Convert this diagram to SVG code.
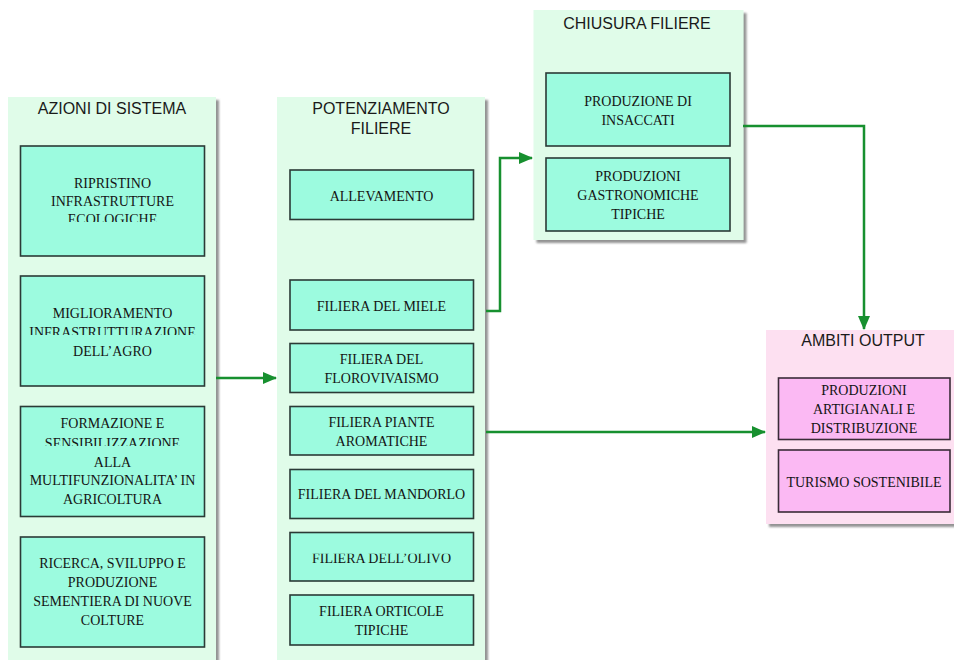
<svg xmlns="http://www.w3.org/2000/svg" width="954" height="660" viewBox="0 0 954 660">
<style>
.cont{fill:#e0fce9;filter:url(#sh)}
.contp{fill:#fde0f1;filter:url(#sh)}
.box{fill:#9cfbdf;stroke:#2b3a36;stroke-width:1.6}
.boxp{fill:#fbb9f3;stroke:#3a2b38;stroke-width:1.6}
.title{font-family:"Liberation Sans",Arial,sans-serif;font-size:16px;fill:#1a1a1a;text-anchor:middle}
.t{font-family:"Liberation Serif","Times New Roman",serif;font-size:14px;fill:#141414;text-anchor:middle}
.con{fill:none;stroke:#17902f;stroke-width:2.5}
</style>
<defs>
<filter id="sh" x="-5%" y="-5%" width="115%" height="115%">
<feDropShadow dx="3" dy="3" stdDeviation="1.2" flood-color="#777" flood-opacity="0.8"/>
</filter>
<marker id="ah" markerWidth="14" markerHeight="12" refX="13" refY="6" orient="auto" markerUnits="userSpaceOnUse">
<path d="M0,0 L14,6 L0,12 Z" fill="#17902f"/>
</marker>
<clipPath id="c1"><rect x="0" y="0" width="954" height="222"/></clipPath>
<clipPath id="c2"><rect x="0" y="0" width="954" height="335"/></clipPath>
<clipPath id="c3"><rect x="0" y="0" width="954" height="446"/></clipPath>
<clipPath id="c4"><rect x="0" y="553.8" width="954" height="106"/></clipPath>
</defs>

<g id="azioni-di-sistema">
<rect class="cont" x="8" y="97" width="208" height="580"/>
<text class="title" x="112" y="114">AZIONI DI SISTEMA</text>
</g>
<g id="ripristino">
<rect class="box" x="20.5" y="146" width="184" height="110"/>
<text class="t" x="112.5" y="187.5">RIPRISTINO</text>
<text class="t" x="112.5" y="205.5">INFRASTRUTTURE</text>
<text class="t" x="112.5" y="224" clip-path="url(#c1)">ECOLOGICHE</text>
</g>
<g id="miglioramento">
<rect class="box" x="20.5" y="276" width="184" height="110"/>
<text class="t" x="112.5" y="317.5">MIGLIORAMENTO</text>
<text class="t" x="112.5" y="336.5" clip-path="url(#c2)">INFRASTRUTTURAZIONE</text>
<text class="t" x="112.5" y="355.5">DELL’AGRO</text>
</g>
<g id="formazione">
<rect class="box" x="20.5" y="406.5" width="184" height="110"/>
<text class="t" x="112.5" y="427.5">FORMAZIONE E</text>
<text class="t" x="112.5" y="447.5" clip-path="url(#c3)">SENSIBILIZZAZIONE</text>
<text class="t" x="112.5" y="466.5">ALLA</text>
<text class="t" x="112.5" y="485">MULTIFUNZIONALITA’ IN</text>
<text class="t" x="112.5" y="503.5">AGRICOLTURA</text>
</g>
<g id="ricerca">
<rect class="box" x="20.5" y="537" width="184" height="110"/>
<text class="t" x="112.5" y="567.5">RICERCA, SVILUPPO E</text>
<text class="t" x="112.5" y="586.5">PRODUZIONE</text>
<text class="t" x="112.5" y="605.5">SEMENTIERA DI NUOVE</text>
<text class="t" x="112.5" y="624.5">COLTURE</text>
</g>

<g id="potenziamento-filiere">
<rect class="cont" x="277" y="97" width="208" height="580"/>
<text class="title" x="381" y="114">POTENZIAMENTO</text>
<text class="title" x="381" y="134">FILIERE</text>
</g>
<g id="allevamento">
<rect class="box" x="290" y="170" width="183.5" height="49.5"/>
<text class="t" x="381.5" y="200.5">ALLEVAMENTO</text>
</g>
<g id="miele">
<rect class="box" x="290" y="280" width="183.5" height="50"/>
<text class="t" x="381.5" y="311">FILIERA DEL MIELE</text>
</g>
<g id="florovivaismo">
<rect class="box" x="290" y="343.5" width="183.5" height="49"/>
<text class="t" x="381.5" y="363.5">FILIERA DEL</text>
<text class="t" x="381.5" y="382.5">FLOROVIVAISMO</text>
</g>
<g id="piante-aromatiche">
<rect class="box" x="290" y="406.5" width="183.5" height="48.5"/>
<text class="t" x="381.5" y="427">FILIERA PIANTE</text>
<text class="t" x="381.5" y="446">AROMATICHE</text>
</g>
<g id="mandorlo">
<rect class="box" x="290" y="469.5" width="183.5" height="49"/>
<text class="t" x="381.5" y="498.5">FILIERA DEL MANDORLO</text>
</g>
<g id="olivo">
<rect class="box" x="290" y="532.5" width="183.5" height="48.5"/>
<text class="t" x="381.5" y="562.5" clip-path="url(#c4)">FILIERA DELL’OLIVO</text>
</g>
<g id="orticole">
<rect class="box" x="290" y="595" width="183.5" height="50"/>
<text class="t" x="381.5" y="615.5">FILIERA ORTICOLE</text>
<text class="t" x="381.5" y="634.5">TIPICHE</text>
</g>

<g id="chiusura-filiere">
<rect class="cont" x="533.5" y="10" width="210" height="230"/>
<text class="title" x="637" y="28.5">CHIUSURA FILIERE</text>
</g>
<g id="insaccati">
<rect class="box" x="546" y="73" width="184" height="73"/>
<text class="t" x="638" y="106">PRODUZIONE DI</text>
<text class="t" x="638" y="124.5">INSACCATI</text>
</g>
<g id="gastronomiche">
<rect class="box" x="546" y="158" width="184" height="73"/>
<text class="t" x="638" y="181">PRODUZIONI</text>
<text class="t" x="638" y="199.5">GASTRONOMICHE</text>
<text class="t" x="638" y="219">TIPICHE</text>
</g>

<g id="ambiti-output">
<rect class="contp" x="766" y="330" width="190" height="194"/>
<text class="title" x="863" y="346">AMBITI OUTPUT</text>
</g>
<g id="artigianali">
<rect class="boxp" x="778.5" y="378" width="171.5" height="61.5"/>
<text class="t" x="864" y="395">PRODUZIONI</text>
<text class="t" x="864" y="413.5">ARTIGIANALI E</text>
<text class="t" x="864" y="432.5">DISTRIBUZIONE</text>
</g>
<g id="turismo">
<rect class="boxp" x="778.5" y="450" width="171.5" height="62"/>
<text class="t" x="864" y="486.5">TURISMO SOSTENIBILE</text>
</g>

<g id="connectors">
<path class="con" d="M216,378 H276" marker-end="url(#ah)"/>
<path class="con" d="M486,311 H500 V158 H532" marker-end="url(#ah)"/>
<path class="con" d="M743,126 H864 V329" marker-end="url(#ah)"/>
<path class="con" d="M486,432 H765" marker-end="url(#ah)"/>
</g>
</svg>
